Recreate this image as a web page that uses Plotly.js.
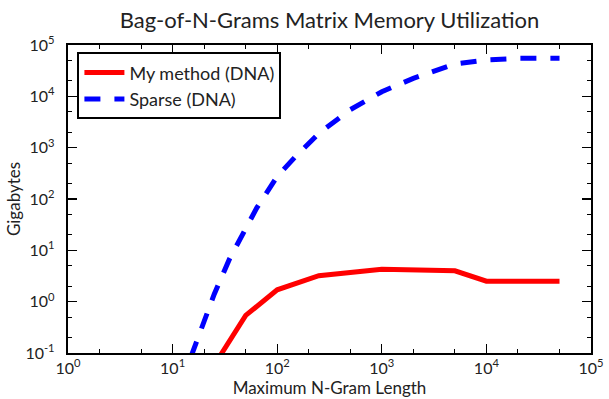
<!DOCTYPE html>
<html>
<head>
<meta charset="utf-8">
<script src="https://cdn.plot.ly/plotly-3.0.1.min.js"></script>
<style>html,body{margin:0;padding:0;background:#fff;}#chart{width:609px;height:399px;}</style>
</head>
<body>
<div id="chart"></div>
<script>
// N-gram lengths and memory (GB)
const myMethodN  = [25, 50, 100, 250, 1000, 5000, 10000, 50000];
const myMethodGB = [0.058, 0.54, 1.7, 3.2, 4.3, 4.0, 2.5, 2.5];

const sparseN  = [15, 20, 25, 35, 50, 64, 100, 150, 250, 500, 1000, 2000, 5000, 10000, 20000, 50000];
const sparseGB = [0.085, 0.42, 1.4, 6.8, 28, 68, 275, 676, 1900, 5500, 12300, 22400, 42700, 51300, 55000, 55000];

const xTickVals = [1, 10, 100, 1000, 10000, 100000];
const xTickText = ["10<sup>0</sup>", "10<sup>1</sup>", "10<sup>2</sup>", "10<sup>3</sup>", "10<sup>4</sup>", "10<sup>5</sup>"];
const yTickVals = [0.1, 1, 10, 100, 1000, 10000, 100000];
const yTickText = ["10<sup>-1</sup>", "10<sup>0</sup>", "10<sup>1</sup>", "10<sup>2</sup>", "10<sup>3</sup>", "10<sup>4</sup>", "10<sup>5</sup>"];

const seriesNames = ["My method (DNA)", "Sparse (DNA)"];
const titleText = "Bag-of-N-Grams Matrix Memory Utilization";
const xTitle = "Maximum N-Gram Length";
const yTitle = "Gigabytes";

const FONT = "Lato, 'Open Sans', sans-serif";
const PAD = "\u00a0\u00a0";

const traces = [
  {x: myMethodN, y: myMethodGB, name: seriesNames[0], mode: "lines",
   line: {color: "#ff0000", width: 5}},
  {x: sparseN, y: sparseGB, name: seriesNames[1], mode: "lines",
   line: {color: "#0000ff", width: 5, dash: "16px,14px"}}
];

function axis(range, vals, text, titleText, standoff) {
  return {
    type: "log", range: range,
    showgrid: false, zeroline: false,
    showline: true, linecolor: "#000", linewidth: 2, mirror: "allticks",
    ticks: "inside", ticklen: 9, tickwidth: 1.2, tickcolor: "#000",
    tickmode: "array", tickvals: vals, ticktext: text,
    minor: {ticks: "inside", ticklen: 4, tickwidth: 1, tickcolor: "#000", showgrid: false},
    tickfont: {family: FONT, size: 16, color: "#222"},
    title: {text: titleText, font: {family: FONT, size: 17, color: "#222"}, standoff: standoff}
  };
}

const layout = {
  width: 609, height: 399,
  margin: {l: 68, r: 18, t: 45, b: 46},
  paper_bgcolor: "#fff", plot_bgcolor: "#fff",
  font: {family: FONT, color: "#222", size: 16},
  title: {text: titleText, font: {family: FONT, size: 22, color: "#222"},
          x: 0.5, xref: "paper", y: 1 - 20 / 399, yref: "container", yanchor: "middle"},
  xaxis: axis([0, 5], xTickVals, xTickText, xTitle, 0),
  yaxis: axis([-1, 5], yTickVals, yTickText.map(t => t + PAD), yTitle, 0),
  showlegend: true,
  legend: {x: 0.018, y: 0.976, xanchor: "left", yanchor: "top",
           bgcolor: "#fff", bordercolor: "#000", borderwidth: 2,
           itemwidth: 40, tracegroupgap: 4,
           font: {family: FONT, size: 18, color: "#222"}}
};

Plotly.newPlot("chart", traces, layout, {staticPlot: true});
</script>
</body>
</html>
